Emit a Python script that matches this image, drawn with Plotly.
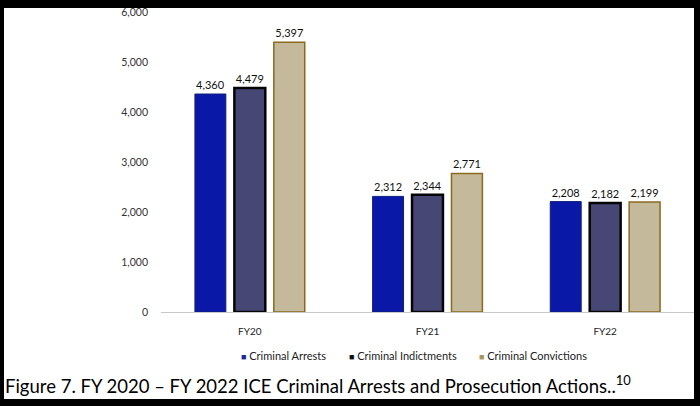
import plotly.graph_objects as go

categories = ["FY20", "FY21", "FY22"]
arrests = [4360, 2312, 2208]
indictments = [4479, 2344, 2182]
convictions = [5397, 2771, 2199]
series_names = ["Criminal Arrests", "Criminal Indictments", "Criminal Convictions"]
y_ticks = [0, 1000, 2000, 3000, 4000, 5000, 6000]

W, H = 700, 406
L, R, T, B = 161, 6, 12, 94
pw, ph = W - L - R, H - T - B

def px_x(p):
    return (p - L) / pw

def px_y(p):
    return (H - B - p) / ph

FONT = "Lato, Open Sans, sans-serif"
fills = ["#0A18A8", "#474775", "#C4B99A"]
lines = ["#10207A", "#050505", "#8A6A1E"]
widths = [1, 2.5, 1.5]
legend_swatch = ["#1A2A9A", "#111111", "#A8955A"]
legend_x = [239, 347, 477]

fig = go.Figure()
for name, vals, fc, lc, lw in zip(series_names, [arrests, indictments, convictions], fills, lines, widths):
    fig.add_trace(go.Bar(
        x=categories, y=vals, name=name, showlegend=False,
        marker=dict(color=fc, line=dict(color=lc, width=lw)),
        text=[f"{v:,}" for v in vals], textposition="outside",
        textfont=dict(family=FONT, size=11, color="#111"),
        cliponaxis=False,
    ))

annotations = []
for name, sc, lx in zip(series_names, legend_swatch, legend_x):
    annotations.append(dict(
        xref="paper", yref="paper", x=px_x(lx), y=px_y(355), xanchor="left", yanchor="middle",
        text=f"<span style='color:{sc};font-size:9px'>\u25A0</span> {name}",
        showarrow=False, font=dict(family=FONT, size=11, color="#222")))

annotations.append(dict(
    xref="paper", yref="paper", x=px_x(3), y=px_y(384), xanchor="left", yanchor="middle",
    text="Figure 7. FY 2020 \u2013 FY 2022 ICE Criminal Arrests and Prosecution Actions..<sup>10</sup>",
    showarrow=False, font=dict(family=FONT, size=18.5, color="black")))

fig.update_layout(
    width=W, height=H,
    margin=dict(l=L, r=R, t=T, b=B),
    paper_bgcolor="black", plot_bgcolor="white",
    barmode="group", bargap=0.334, bargroupgap=0.216,
    font=dict(family=FONT, size=10, color="#333"),
    showlegend=False,
    xaxis=dict(showline=True, linecolor="#C8C8C8", linewidth=1, ticks="", showgrid=False,
               ticklabelstandoff=10, tickfont=dict(size=10, color="#222")),
    yaxis=dict(range=[0, 6000], tickvals=y_ticks, ticktext=[f"{v:,}" for v in y_ticks],
               showgrid=False, zeroline=False, showline=False, ticks="",
               ticklabelstandoff=12, tickfont=dict(size=10.5, color="#333")),
    shapes=[dict(type="rect", xref="paper", yref="paper", layer="below",
                 x0=px_x(4), x1=px_x(694), y0=px_y(399), y1=px_y(8),
                 fillcolor="white", line=dict(width=0))],
    annotations=annotations,
)

fig.write_html("out.html")
